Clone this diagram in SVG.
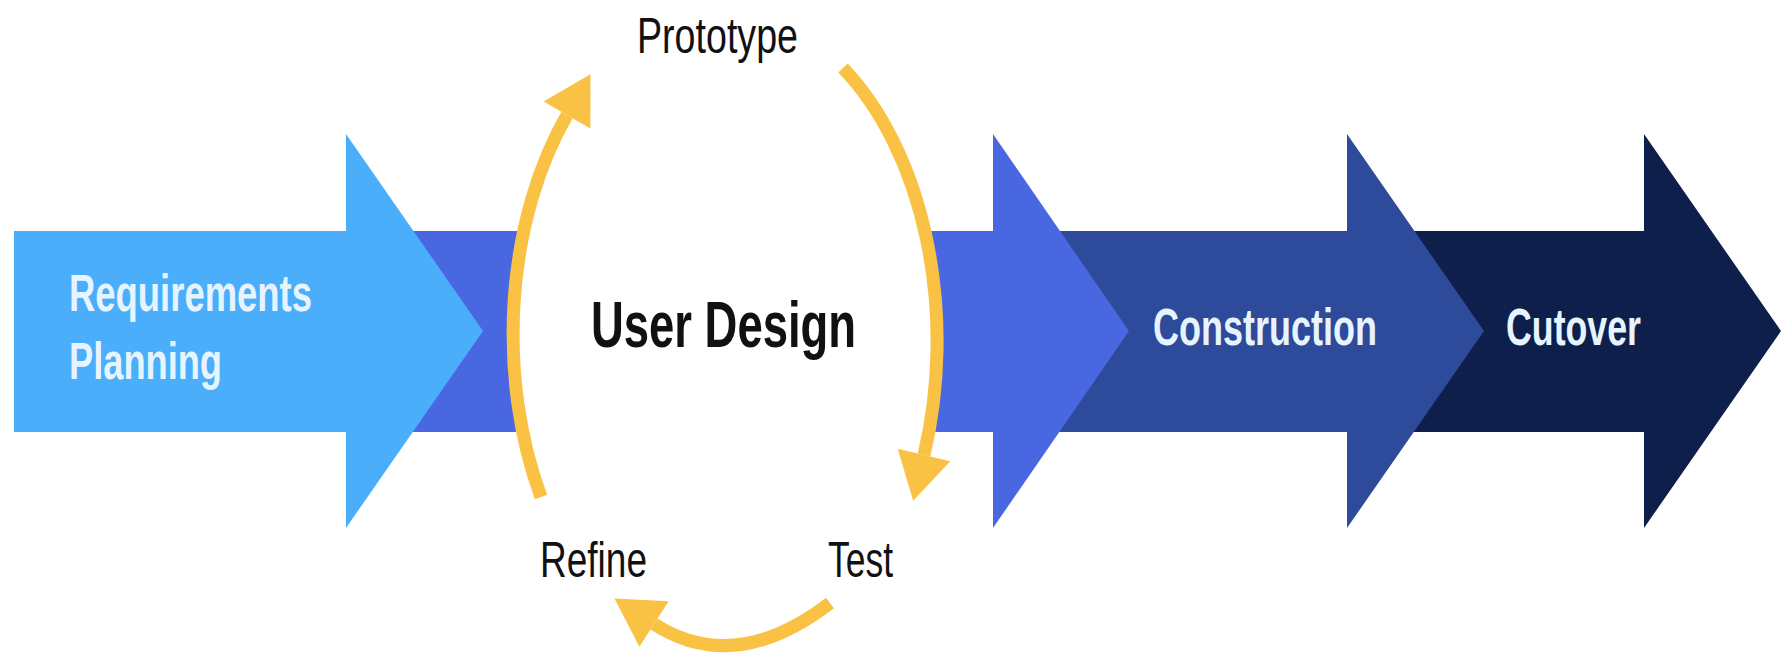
<svg xmlns="http://www.w3.org/2000/svg" width="1790" height="662" viewBox="0 0 1790 662">
<defs>
<style>
.lbl{font-family:"Liberation Sans",Arial,sans-serif;}
.light{fill:#E6F4FF;font-weight:bold;font-size:52px;}
.dark{fill:#111111;font-size:50px;}
.arc{fill:none;stroke:#FAC244;stroke-width:13;stroke-linecap:butt;marker-end:url(#head);}
</style>
<marker id="head" markerUnits="userSpaceOnUse" orient="auto" refX="0" refY="0" markerWidth="60" markerHeight="60" viewBox="0 -30 50 60" overflow="visible">
<path d="M0,-27 L47,0 L0,27 Z" fill="#FAC244"/>
</marker>
</defs>
<rect width="1790" height="662" fill="#ffffff"/>
<g id="cutover">
<path d="M1400,231 H1644 V134 L1781,331 L1644,528 V432 H1400 Z" fill="#0E1F4B"/>
<text class="lbl light" x="1506" y="345" textLength="135" lengthAdjust="spacingAndGlyphs">Cutover</text>
</g>
<g id="construction">
<path d="M1050,231 H1347 V134 L1484,331 L1347,528 V432 H1050 Z" fill="#2D4A9B"/>
<text class="lbl light" x="1153" y="345" textLength="224" lengthAdjust="spacingAndGlyphs">Construction</text>
</g>
<g id="user-design">
<path d="M380,231 H993 V134 L1129,331 L993,528 V432 H380 Z" fill="#4A67E2"/>
<ellipse cx="726" cy="332" rx="214" ry="330" fill="#ffffff"/>
<text class="lbl" x="591" y="347" font-size="64" font-weight="bold" fill="#111111" textLength="265" lengthAdjust="spacingAndGlyphs">User Design</text>
</g>
<g id="requirements-planning">
<path d="M14,231 H346 V134 L483,331 L346,528 V432 H14 Z" fill="#4BAEFB"/>
<text class="lbl light" x="69" y="311" textLength="243" lengthAdjust="spacingAndGlyphs">Requirements</text>
<text class="lbl light" x="69" y="379" textLength="153" lengthAdjust="spacingAndGlyphs">Planning</text>
</g>
<g id="prototype">
<text class="lbl dark" x="637" y="53" font-size="56" textLength="161" lengthAdjust="spacingAndGlyphs">Prototype</text>
</g>
<g id="test">
<text class="lbl dark" x="828" y="577" textLength="65" lengthAdjust="spacingAndGlyphs">Test</text>
</g>
<g id="refine">
<text class="lbl dark" x="540" y="577" textLength="107" lengthAdjust="spacingAndGlyphs">Refine</text>
</g>
<g id="connectors">
<path class="arc" d="M541,497 A214,330 0 0 1 567,115"/>
<path class="arc" d="M843,68 A214,330 0 0 1 924,455"/>
<path class="arc" d="M830,603 Q735,676 654,624"/>
</g>
</svg>
